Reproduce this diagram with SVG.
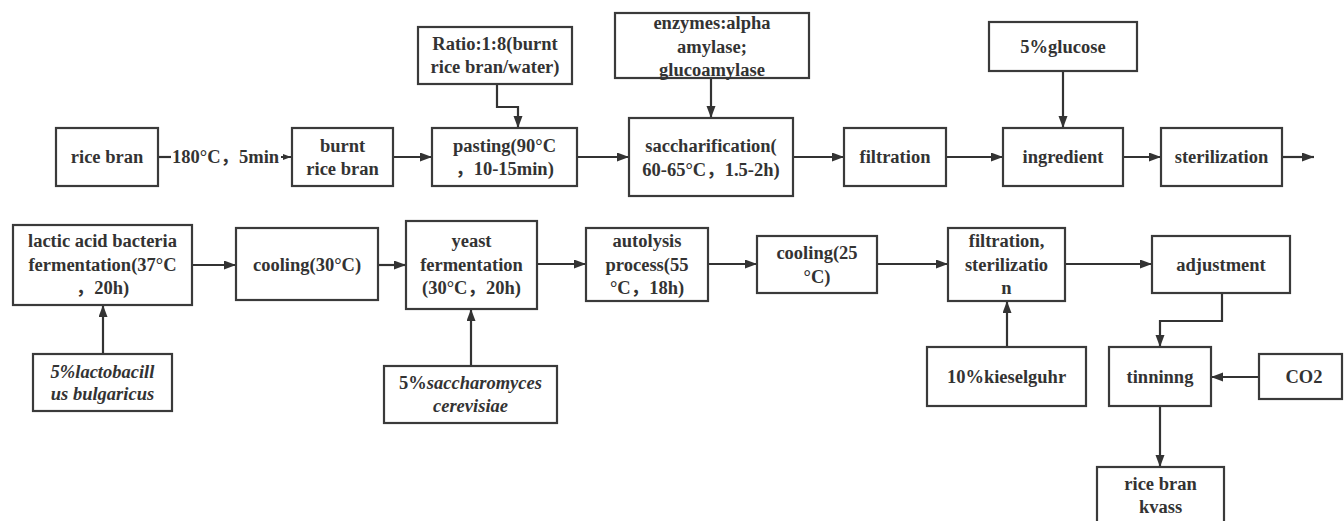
<svg xmlns="http://www.w3.org/2000/svg" width="1344" height="521" viewBox="0 0 1344 521">
<defs>
<marker id="ah" markerUnits="userSpaceOnUse" markerWidth="13" markerHeight="10" refX="12" refY="4.5" orient="auto">
<path d="M0,0 L12,4.5 L0,9 z" fill="#333"/>
</marker>
<marker id="ahs" markerUnits="userSpaceOnUse" markerWidth="9" markerHeight="7" refX="8" refY="3" orient="auto">
<path d="M0,0 L8,3 L0,6 z" fill="#333"/>
</marker>
<style>
.box{fill:#fff;stroke:#3a3a3a;stroke-width:2.2}
text{font-family:'Liberation Serif','Noto Sans CJK SC',serif;font-weight:bold;font-size:18.5px;fill:#333;text-anchor:middle}
.i{font-style:italic}
.c{fill:none;stroke:#333;stroke-width:2.2}
.ca{fill:none;stroke:#333;stroke-width:2.2;marker-end:url(#ah)}
</style>
</defs>
<rect width="1344" height="521" fill="#fff"/>

<g id="connectors">
<path class="c" d="M158,157 H171"/>
<path d="M281,157 H291" fill="none" stroke="#333" stroke-width="2" marker-end="url(#ahs)"/>
<path class="ca" d="M393,157 H432"/>
<path class="ca" d="M497,84 V107 H518 V128"/>
<path class="ca" d="M577,157 H629"/>
<path class="ca" d="M711,78 V118"/>
<path class="ca" d="M793,157 H844"/>
<path class="ca" d="M946,157 H1003"/>
<path d="M1011,152.5 L1004,157 L1011,161.5 z" fill="#333"/>
<path class="ca" d="M1063,71 V128"/>
<path class="ca" d="M1123,157 H1161"/>
<path class="ca" d="M1282,157 H1314"/>
<path class="ca" d="M192,265 H236"/>
<path class="ca" d="M378,265 H406"/>
<path class="ca" d="M537,264 H586"/>
<path class="ca" d="M708,264 H757"/>
<path class="ca" d="M877,264 H948"/>
<path class="ca" d="M1065,264 H1152"/>
<path class="ca" d="M103,354 V305"/>
<path class="ca" d="M471,366 V309"/>
<path class="ca" d="M1007,347 V301"/>
<path class="ca" d="M1222,293 V321 H1160 V347"/>
<path class="ca" d="M1259,377 H1211"/>
<path class="ca" d="M1160,406 V467"/>
</g>

<g id="rice-bran"><rect class="box" x="56" y="128" width="102" height="58"/><text x="107" y="163">rice bran</text></g>
<g id="label-180"><text x="172" y="163" style="text-anchor:start">180°C，5min</text></g>
<g id="burnt-rice-bran"><rect class="box" x="292" y="128" width="101" height="58"/><text x="342.5" y="152">burnt</text><text x="342.5" y="175">rice bran</text></g>
<g id="ratio"><rect class="box" x="418" y="27" width="154" height="57"/><text x="495" y="50">Ratio:1:8(burnt</text><text x="495" y="73">rice bran/water)</text></g>
<g id="pasting"><rect class="box" x="432" y="128" width="145" height="58"/><text x="504.5" y="152">pasting(90°C</text><text x="504.5" y="175">，10-15min)</text></g>
<g id="enzymes"><rect class="box" x="615" y="13" width="194" height="65"/><text x="712" y="29">enzymes:alpha</text><text x="712" y="53">amylase;</text><text x="712" y="76">glucoamylase</text></g>
<g id="saccharification"><rect class="box" x="629" y="118" width="164" height="78"/><text x="711" y="152">saccharification(</text><text x="711" y="176">60-65°C，1.5-2h)</text></g>
<g id="filtration"><rect class="box" x="844" y="128" width="102" height="58"/><text x="895" y="163">filtration</text></g>
<g id="glucose"><rect class="box" x="989" y="22" width="148" height="49"/><text x="1063" y="53">5%glucose</text></g>
<g id="ingredient"><rect class="box" x="1003" y="128" width="120" height="58"/><text x="1063" y="163">ingredient</text></g>
<g id="sterilization"><rect class="box" x="1161" y="128" width="121" height="58"/><text x="1221.5" y="163">sterilization</text></g>

<g id="lactic"><rect class="box" x="13" y="225" width="179" height="80"/><text x="102.5" y="247">lactic acid bacteria</text><text x="102.5" y="271">fermentation(37°C</text><text x="102.5" y="294">，20h)</text></g>
<g id="cooling30"><rect class="box" x="236" y="228" width="142" height="72"/><text x="307" y="271">cooling(30°C)</text></g>
<g id="yeast"><rect class="box" x="406" y="221" width="131" height="88"/><text x="471.5" y="247">yeast</text><text x="471.5" y="271">fermentation</text><text x="471.5" y="294">(30°C，20h)</text></g>
<g id="autolysis"><rect class="box" x="586" y="228" width="122" height="73"/><text x="647" y="247">autolysis</text><text x="647" y="271">process(55</text><text x="647" y="294">°C，18h)</text></g>
<g id="cooling25"><rect class="box" x="757" y="236" width="120" height="57"/><text x="817" y="259">cooling(25</text><text x="817" y="283">°C)</text></g>
<g id="filt-ster"><rect class="box" x="948" y="228" width="117" height="73"/><text x="1006.5" y="247">filtration,</text><text x="1006.5" y="271">sterilizatio</text><text x="1006.5" y="294">n</text></g>
<g id="adjustment"><rect class="box" x="1152" y="236" width="138" height="57"/><text x="1221" y="271">adjustment</text></g>
<g id="lactobacillus"><rect class="box" x="33" y="354" width="139" height="57"/><text class="i" x="102.5" y="378">5%lactobacill</text><text class="i" x="102.5" y="400">us bulgaricus</text></g>
<g id="saccharomyces"><rect class="box" x="384" y="366" width="173" height="57"/><text x="470.5" y="389">5%<tspan class="i">saccharomyces</tspan></text><text class="i" x="470.5" y="412">cerevisiae</text></g>
<g id="kieselguhr"><rect class="box" x="927" y="347" width="159" height="59"/><text x="1006.5" y="383">10%kieselguhr</text></g>
<g id="tinninng"><rect class="box" x="1109" y="347" width="102" height="59"/><text x="1160" y="383">tinninng</text></g>
<g id="co2"><rect class="box" x="1259" y="354" width="83" height="45"/><text x="1304" y="383">CO2</text></g>
<g id="kvass"><rect class="box" x="1097" y="467" width="127" height="64"/><text x="1160.5" y="490">rice bran</text><text x="1160.5" y="513">kvass</text></g>
</svg>
